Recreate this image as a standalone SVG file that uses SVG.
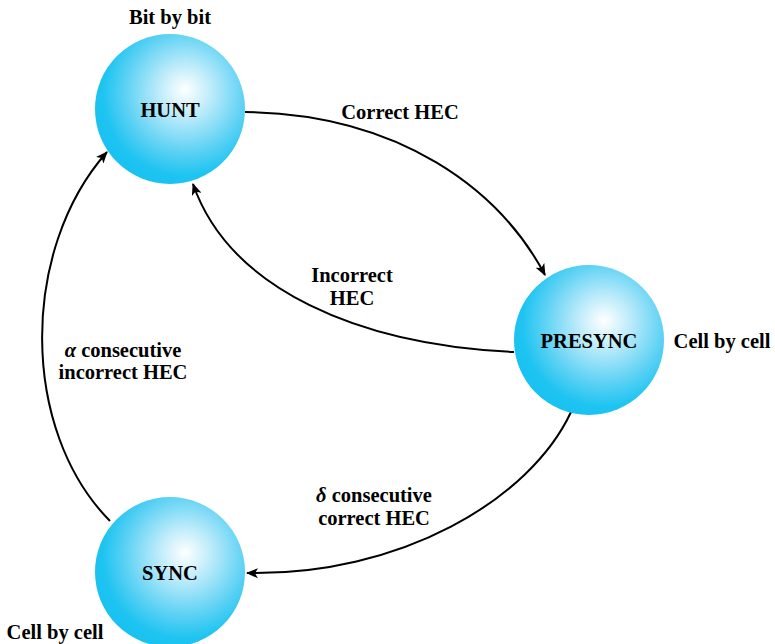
<svg xmlns="http://www.w3.org/2000/svg" width="775" height="644" viewBox="0 0 775 644">
<style>
text{font-family:"Liberation Serif","Times New Roman",serif;font-weight:bold;font-size:20.5px;fill:#000;text-anchor:middle}
.edge{fill:none;stroke:#000;stroke-width:2;marker-end:url(#arr)}
.ball{fill:url(#g)}
</style>
<defs>
<radialGradient id="g" cx="0.6" cy="0.4" r="0.62" fx="0.6" fy="0.37">
<stop offset="0" stop-color="#ffffff"/>
<stop offset="0.3" stop-color="#b8eafa"/>
<stop offset="0.65" stop-color="#5bd1f4"/>
<stop offset="0.88" stop-color="#1fc4f1"/>
<stop offset="1" stop-color="#19c2f1"/>
</radialGradient>
<marker id="arr" viewBox="0 0 12 10" refX="11" refY="5" markerWidth="12" markerHeight="10" markerUnits="userSpaceOnUse" orient="auto">
<path d="M0,0 L12,5 L0,10 L3,5 Z" fill="#000"/>
</marker>
</defs>
<g id="connectors">
<path class="edge" d="M245,112 C400,114 500,190 545,275"/>
<path class="edge" d="M514,352 C360,345 230,290 193,184"/>
<path class="edge" d="M571,412 C530,500 400,576 247,573"/>
<path class="edge" d="M110,521 C20,430 20,250 107,152"/>
</g>
<g id="hunt">
<circle class="ball" cx="170" cy="109" r="75"/>
<text x="170" y="117">HUNT</text>
</g>
<g id="presync">
<circle class="ball" cx="589" cy="340" r="75"/>
<text x="589" y="348">PRESYNC</text>
</g>
<g id="sync">
<circle class="ball" cx="170" cy="572" r="75"/>
<text x="170" y="580">SYNC</text>
</g>
<g id="labels">
<text x="170" y="24">Bit by bit</text>
<text x="400" y="119">Correct HEC</text>
<text x="352" y="282">Incorrect</text>
<text x="352" y="305">HEC</text>
<text x="722" y="348">Cell by cell</text>
<text x="123" y="357"><tspan font-style="italic">α</tspan> consecutive</text>
<text x="123" y="379">incorrect HEC</text>
<text x="374" y="502"><tspan font-style="italic">δ</tspan> consecutive</text>
<text x="374" y="525">correct HEC</text>
<text x="55" y="639">Cell by cell</text>
</g>
</svg>
